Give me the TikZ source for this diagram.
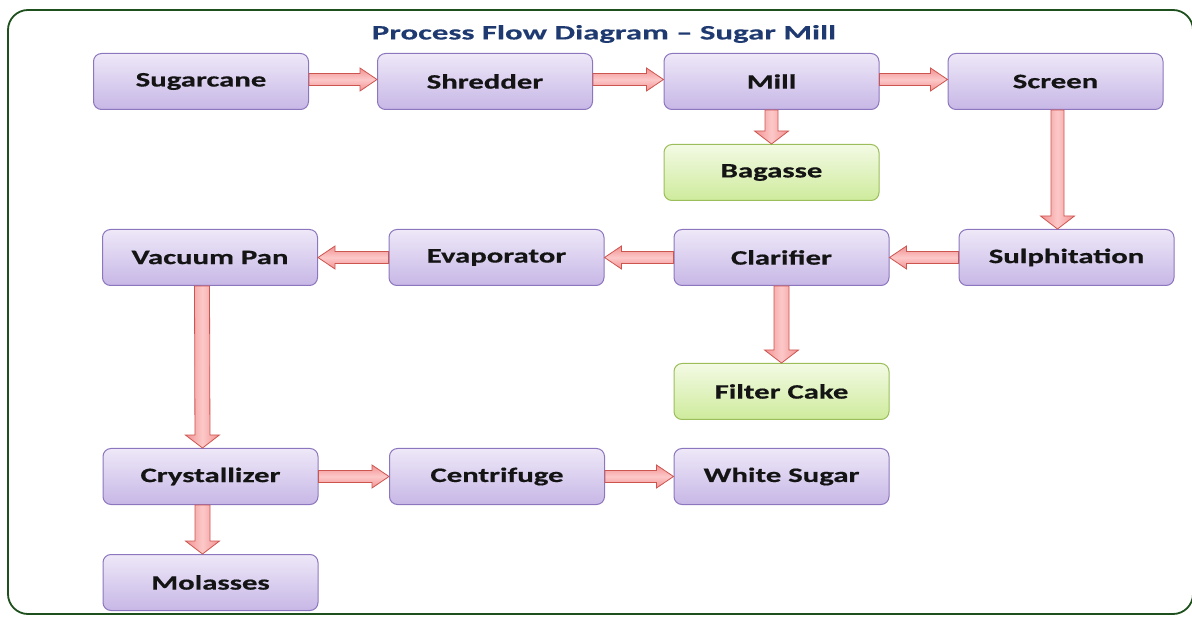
\documentclass[tikz,border=0pt]{standalone}
\usepackage{fontspec}
\setmainfont{Carlito}
\newfontfamily\boxfont[FakeStretch=1.5, BoldFeatures={FakeBold=0.6}]{Carlito}
\newfontfamily\titlefont[FakeStretch=1.6, BoldFeatures={FakeBold=0.3}]{Carlito}
\usetikzlibrary{calc}

\definecolor{boxtop}{RGB}{238,232,248}
\definecolor{boxbot}{RGB}{199,183,230}
\definecolor{boxline}{RGB}{140,118,190}
\definecolor{gtop}{RGB}{243,250,228}
\definecolor{gbot}{RGB}{206,235,156}
\definecolor{gline}{RGB}{155,190,90}
\definecolor{arrfill}{RGB}{252,200,200}
\definecolor{arredge}{RGB}{242,145,145}
\definecolor{arrline}{RGB}{205,85,80}
\definecolor{framec}{RGB}{30,80,30}
\definecolor{titlec}{RGB}{31,58,112}

\tikzset{
 x=1pt, y=-1pt,
 proc/.style={rounded corners=8pt, draw=boxline, line width=1pt, top color=boxtop, bottom color=boxbot,
   minimum width=215pt, minimum height=56pt, inner sep=0pt,
   font=\boxfont\bfseries\fontsize{20.5}{24}\selectfont, text=black!92},
 prod/.style={proc, draw=gline, top color=gtop, bottom color=gbot},
 shafthw/.store in=\shafthw, headhw/.store in=\headhw, headlen/.store in=\headlen,
 shafthw=6pt, headhw=11.5pt, headlen=17pt,
 blockarrow/.style={draw=arrline, line width=0.8pt, line join=miter,
   to path={
     ($(\tikztostart)!\shafthw!-90:(\tikztotarget)$)
     -- ($($(\tikztotarget)!\headlen!(\tikztostart)$)!\shafthw!90:(\tikztostart)$)
     -- ($($(\tikztotarget)!\headlen!(\tikztostart)$)!\headhw!90:(\tikztostart)$)
     -- (\tikztotarget)
     -- ($($(\tikztotarget)!\headlen!(\tikztostart)$)!\headhw!-90:(\tikztostart)$)
     -- ($($(\tikztotarget)!\headlen!(\tikztostart)$)!\shafthw!-90:(\tikztostart)$)
     -- ($(\tikztostart)!\shafthw!90:(\tikztotarget)$) -- cycle}},
 harrow/.style={blockarrow, top color=arredge, bottom color=arredge, middle color=arrfill},
 varrow/.style={blockarrow, shafthw=7.5pt, headhw=17pt, headlen=13pt,
   left color=arredge, right color=arredge, middle color=arrfill},
}

\begin{document}
\begin{tikzpicture}
\useasboundingbox (0,0) rectangle (1192,617);
\draw[framec, line width=1.8pt, rounded corners=20pt] (8,10) rectangle (1193,614);
\node[font=\titlefont\bfseries\fontsize{20.5}{24}\selectfont, text=titlec] (title) at (604,34) {Process Flow Diagram – Sugar Mill};

\node[proc] (sugarcane) at (201,81.5) {Sugarcane};
\node[proc] (shredder) at (485,81.5) {Shredder};
\node[proc] (mill) at (771.5,81.5) {Mill};
\node[proc] (screen) at (1055.5,81.5) {Screen};
\node[prod] (bagasse) at (771.5,172.5) {Bagasse};
\node[proc] (sulph) at (1066.5,257.5) {Sulphitation};
\node[proc] (clarifier) at (781.5,257.5) {Clarifier};
\node[proc] (evap) at (496.5,257.5) {Evaporator};
\node[proc] (vacpan) at (210,257.5) {Vacuum Pan};
\node[prod] (filter) at (781.5,391.5) {Filter Cake};
\node[proc] (cryst) at (210.5,476.5) {Crystallizer};
\node[proc] (centri) at (497,476.5) {Centrifuge};
\node[proc] (white) at (781.5,476.5) {White Sugar};
\node[proc] (molasses) at (210.5,582.5) {Molasses};

\draw[harrow] ([yshift=2pt]sugarcane.east) to ([yshift=2pt]shredder.west);
\draw[harrow] ([yshift=2pt]shredder.east) to ([yshift=2pt]mill.west);
\draw[harrow] ([yshift=2pt]mill.east) to ([yshift=2pt]screen.west);
\draw[varrow, shafthw=6.5pt] (mill.south) to (bagasse.north);
\draw[varrow, shafthw=6.5pt] ([xshift=2pt]screen.south) to ([xshift=2pt]screen.south |- sulph.north);
\draw[harrow] (sulph.west) to (clarifier.east);
\draw[harrow] (clarifier.west) to (evap.east);
\draw[harrow] (evap.west) to (vacpan.east);
\draw[varrow] ([xshift=-8pt]vacpan.south) to ([xshift=-8pt]cryst.north);
\draw[varrow] (clarifier.south) to (filter.north);
\draw[harrow] (cryst.east) to (centri.west);
\draw[harrow] (centri.east) to (white.west);
\draw[varrow] ([xshift=-8pt]cryst.south) to ([xshift=-8pt]molasses.north);
\end{tikzpicture}
\end{document}
